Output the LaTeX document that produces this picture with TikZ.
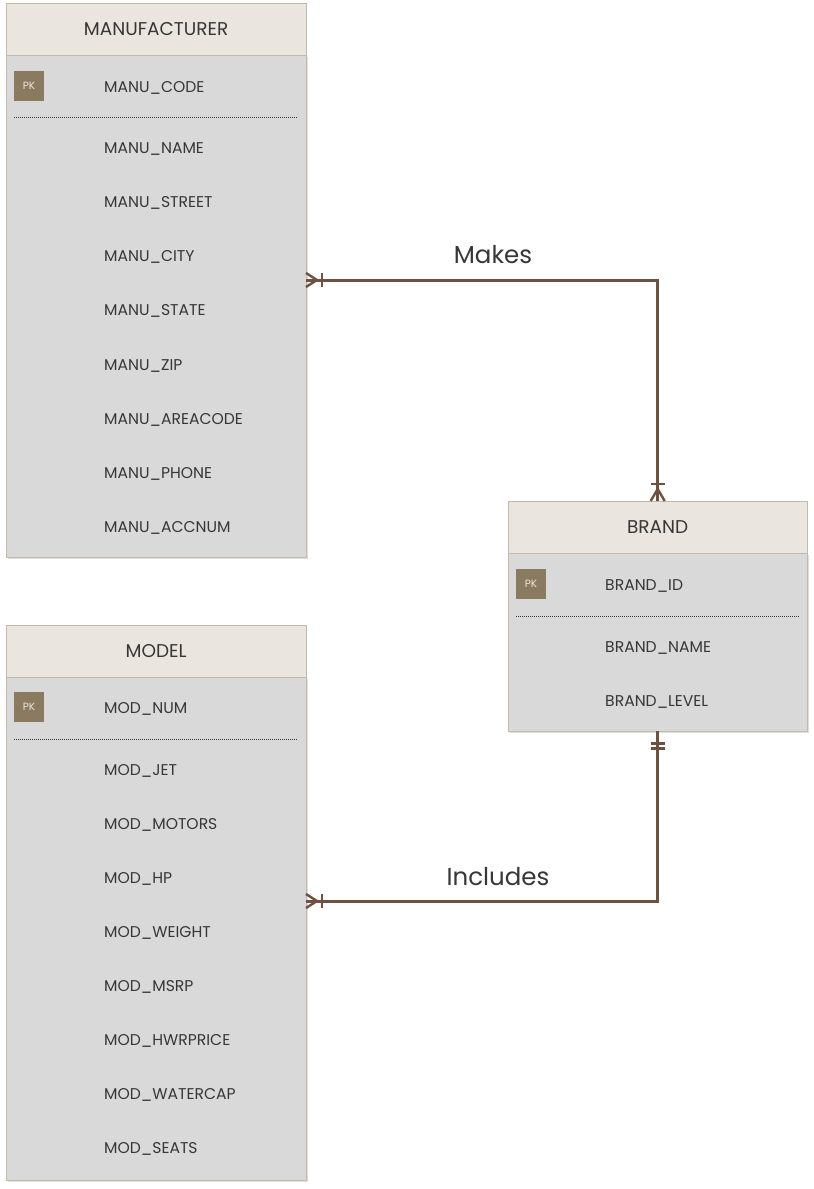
\documentclass[tikz,border=0pt]{standalone}
\usepackage{fontspec}
\setmainfont{Poppins}
\usetikzlibrary{shadows}

\tikzset{
  tablebody/.style={draw=erborder, fill=erbody, anchor=north west, minimum width=300pt,
    inner sep=0pt, drop shadow={shadow xshift=1.5pt, shadow yshift=-1.5pt, opacity=0.25}},
  tablehead/.style={draw=erborder, fill=erhead, anchor=north west, minimum width=300pt,
    minimum height=52pt, inner sep=0pt, text=ertext, font=\fontsize{18.5}{20}\selectfont},
  pkbox/.style={fill=erpk, minimum size=30pt, inner sep=0pt, text=erhead,
    font=\fontsize{10.5}{12}\selectfont},
  field/.style={anchor=west, inner sep=0pt, text=ertext, font=\fontsize{15.6}{18}\selectfont},
  keyline/.style={line width=1pt, dash pattern=on 1pt off 1pt, ertext},
  relline/.style={line width=3pt, draw=errel},
  tipline/.style={line width=2.4pt, draw=errel},
  rellabel/.style={text=ertext, font=\fontsize{24.5}{28}\selectfont}
}

\begin{document}
\begin{tikzpicture}[x=1pt,y=-1pt]
    % 定义颜色
    \definecolor{erhead}{RGB}{234,230,223}
    \definecolor{erbody}{RGB}{217,217,217}
    \definecolor{erborder}{RGB}{196,184,166}
    \definecolor{erpk}{RGB}{138,122,96}
    \definecolor{ertext}{RGB}{55,55,55}
    \definecolor{errel}{RGB}{112,80,62}

    \useasboundingbox[fill=white] (0,0) rectangle (814,1189);

    % MANUFACTURER 表
    \node[tablebody, minimum height=502pt] (manu) at (6,55) {};
    \node[tablehead] (manuhead) at (6,3) {MANUFACTURER};
    \node[pkbox] (manupk) at (29,86) {PK};
    \node[field] (manukey) at (104,88) {MANU\_CODE};
    \draw[keyline] (14,117) -- (297,117);
    \foreach \f [count=\i] in {MANU\_NAME, MANU\_STREET, MANU\_CITY, MANU\_STATE,
        MANU\_ZIP, MANU\_AREACODE, MANU\_PHONE, MANU\_ACCNUM}
        \node[field] (manu-\i) at (104,{149+54.14*(\i-1)}) {\f};

    % MODEL 表
    \node[tablebody, minimum height=503pt] (model) at (6,677) {};
    \node[tablehead] (modelhead) at (6,625) {MODEL};
    \node[pkbox] (modelpk) at (29,707) {PK};
    \node[field] (modelkey) at (104,709) {MOD\_NUM};
    \draw[keyline] (14,739) -- (297,739);
    \foreach \f [count=\i] in {MOD\_JET, MOD\_MOTORS, MOD\_HP, MOD\_WEIGHT,
        MOD\_MSRP, MOD\_HWRPRICE, MOD\_WATERCAP, MOD\_SEATS}
        \node[field] (model-\i) at (104,{771+54*(\i-1)}) {\f};

    % BRAND 表
    \node[tablebody, minimum width=299pt, minimum height=178pt] (brand) at (508,553) {};
    \node[tablehead, minimum width=299pt] (brandhead) at (508,501) {BRAND};
    \node[pkbox] (brandpk) at (531,584) {PK};
    \node[field] (brandkey) at (605,586) {BRAND\_ID};
    \draw[keyline] (516,616) -- (799,616);
    \node[field] (brand-1) at (605,648) {BRAND\_NAME};
    \node[field] (brand-2) at (605,702) {BRAND\_LEVEL};

    % 关系 Makes
    \coordinate (makesL) at (306,280);
    \draw[relline] (makesL) -| (brandhead.north);
    \draw[tipline] (makesL) ++(0,-7) -- ++(11,7) -- ++(-11,7);
    \draw[tipline] (makesL) ++(16,-7) -- ++(0,14);
    \draw[tipline] (brandhead.north) ++(-7,0) -- ++(7,-12) -- ++(7,12);
    \draw[tipline] (brandhead.north) ++(-7,-17) -- ++(14,0);
    \node[rellabel] (makes) at (493,255) {Makes};

    % 关系 Includes
    \coordinate (inclL) at (306,901);
    \draw[relline] (inclL) -| (brand.south);
    \draw[tipline] (inclL) ++(0,-7) -- ++(11,7) -- ++(-11,7);
    \draw[tipline] (inclL) ++(16,-7) -- ++(0,14);
    \draw[tipline] (brand.south) ++(-7,12) -- ++(14,0);
    \draw[tipline] (brand.south) ++(-7,17) -- ++(14,0);
    \node[rellabel] (includes) at (498,877) {Includes};
\end{tikzpicture}
\end{document}
